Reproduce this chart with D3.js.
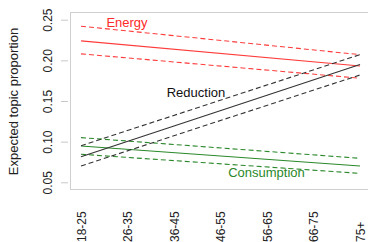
<!DOCTYPE html>
<html>
<head>
<meta charset="utf-8">
<script src="https://cdn.jsdelivr.net/npm/d3@7"></script>
<style>
  body { margin: 0; background: #fff; }
  svg { font-family: "Liberation Sans", Arial, sans-serif; }
</style>
</head>
<body>
<div id="chart"></div>
<script>
// age groups along the bottom
var ages = ["18-25", "26-35", "36-45", "46-55", "56-65", "66-75", "75+"];
var yTicks = [0.05, 0.10, 0.15, 0.20, 0.25];

// each topic is a straight line, so only the two ends are kept (18-25, 75+)
var energyMid = [0.224, 0.193];
var energyHi = [0.242, 0.207];
var energyLo = [0.208, 0.178];

var reductionMid = [0.0815, 0.195];
var reductionHi = [0.095, 0.207];
var reductionLo = [0.070, 0.182];

var consumptionMid = [0.0947, 0.070];
var consumptionHi = [0.105, 0.0795];
var consumptionLo = [0.0845, 0.061];

var width = 368;
var height = 242;

var svg = d3.select("#chart")
  .append("svg")
  .attr("width", width)
  .attr("height", height);

var xScale = d3.scalePoint()
  .domain(ages)
  .range([81, 360]);

var yScale = d3.scaleLinear()
  .domain([0.05, 0.25])
  .range([182.3, 19.7]);

// plot box (right side runs off the picture)
svg.append("rect")
  .attr("x", 70.5)
  .attr("y", 12.5)
  .attr("width", 310)
  .attr("height", 177)
  .attr("fill", "none")
  .attr("stroke", "#cfcfcf");

// y axis
var yAxis = svg.append("g")
  .attr("transform", "translate(68,0)")
  .call(d3.axisLeft(yScale).tickValues(yTicks).tickSize(7).tickFormat(d3.format(".2f")));
yAxis.select(".domain").remove();
yAxis.selectAll(".tick line").attr("stroke", "#c8c8c8");
yAxis.selectAll(".tick text")
  .attr("x", 0)
  .attr("y", 0)
  .attr("transform", "translate(-16,0) rotate(-90)")
  .attr("text-anchor", "middle")
  .attr("dy", 0)
  .style("font-size", "12px")
  .attr("fill", "#222");

// x axis labels, reading upward
var xAxis = svg.append("g")
  .attr("transform", "translate(0,242)")
  .call(d3.axisBottom(xScale).tickSize(0));
xAxis.select(".domain").remove();
xAxis.selectAll(".tick text")
  .attr("x", 0)
  .attr("y", 0)
  .attr("dy", "0.35em")
  .attr("transform", "rotate(-90)")
  .attr("text-anchor", "start")
  .style("font-size", "12px")
  .attr("fill", "#222");

// axis title
svg.append("text")
  .attr("transform", "translate(18,101.5) rotate(-90)")
  .attr("text-anchor", "middle")
  .style("font-size", "13px")
  .attr("fill", "#222")
  .text("Expected topic proportion");

var ends = [ages[0], ages[ages.length - 1]];
var line = d3.line()
  .x(function(d, i) { return xScale(ends[i]); })
  .y(function(d) { return yScale(d); });

function drawTopic(mid, hi, lo, color) {
  svg.append("path").attr("d", line(hi)).attr("fill", "none")
    .attr("stroke", color).attr("stroke-width", 1.1).attr("stroke-dasharray", "5,3");
  svg.append("path").attr("d", line(lo)).attr("fill", "none")
    .attr("stroke", color).attr("stroke-width", 1.1).attr("stroke-dasharray", "5,3");
  svg.append("path").attr("d", line(mid)).attr("fill", "none")
    .attr("stroke", color).attr("stroke-width", 1.1);
}

drawTopic(energyMid, energyHi, energyLo, "#ff3b3b");
drawTopic(consumptionMid, consumptionHi, consumptionLo, "#2a882a");
drawTopic(reductionMid, reductionHi, reductionLo, "#333");

// topic labels
svg.append("text").attr("x", 127).attr("y", 27).attr("text-anchor", "middle")
  .style("font-size", "13px").attr("fill", "#ff2a2a").text("Energy");
svg.append("text").attr("x", 196).attr("y", 97).attr("text-anchor", "middle")
  .style("font-size", "13px").attr("fill", "#111").text("Reduction");
svg.append("text").attr("x", 266.5).attr("y", 177).attr("text-anchor", "middle")
  .style("font-size", "13px").attr("fill", "#2a882a").text("Consumption");
</script>
</body>
</html>
